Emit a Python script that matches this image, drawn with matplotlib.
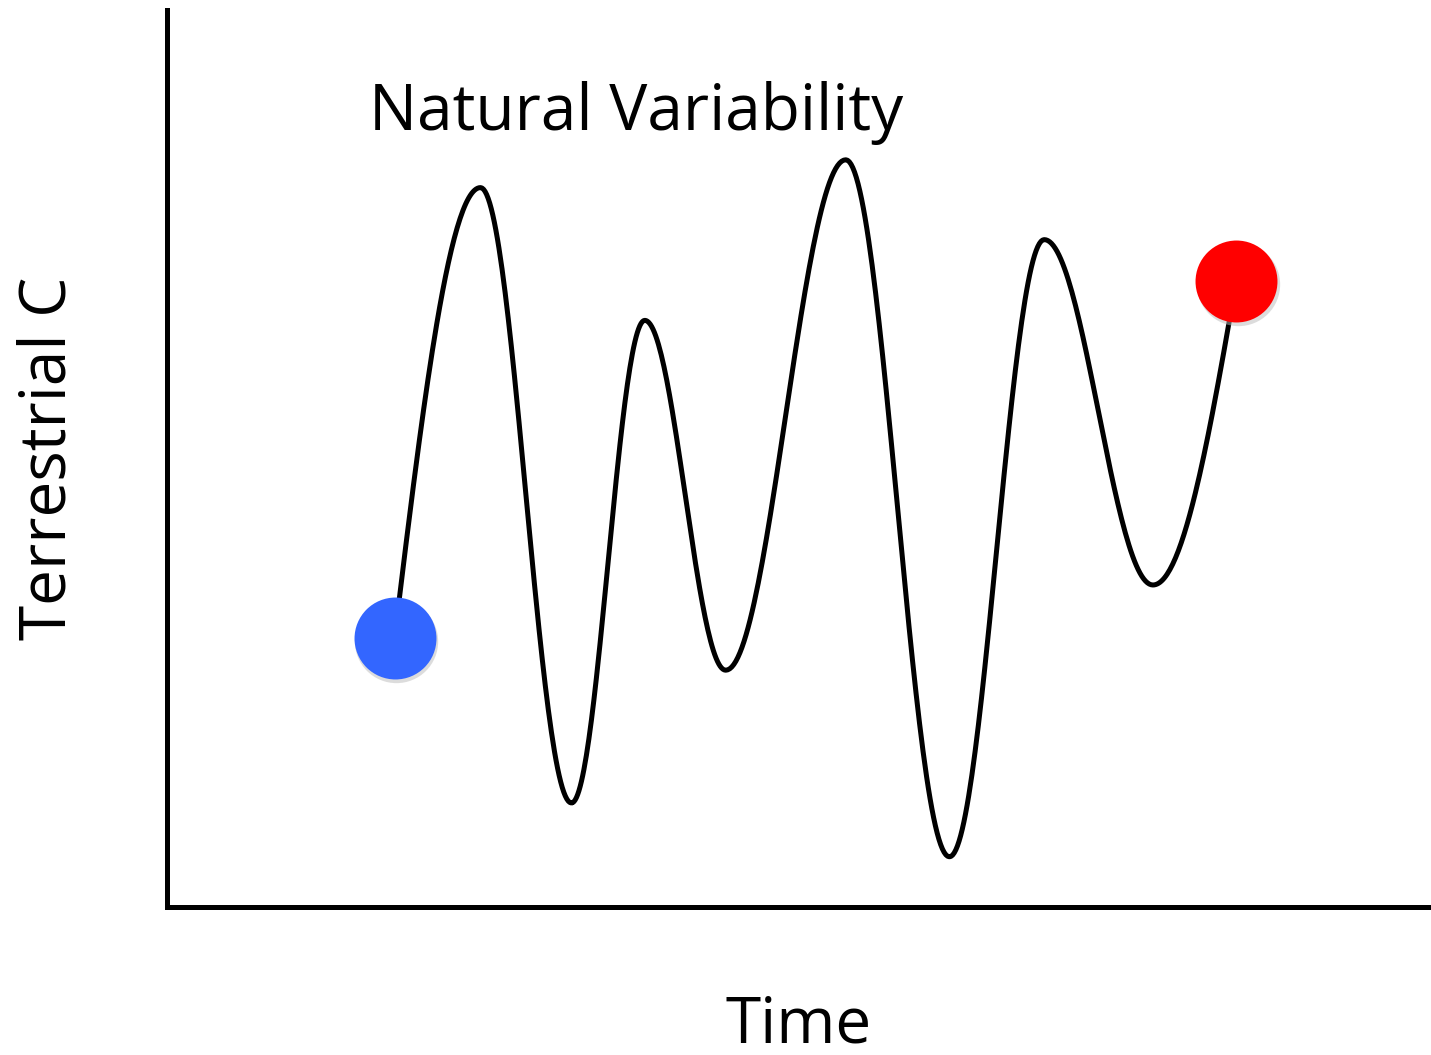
import numpy as np
import matplotlib.pyplot as plt

# turning points of the schematic curve (time, terrestrial C), arbitrary units
time_pts = [18.0, 24.8, 32.0, 37.8, 44.2, 53.7, 61.9, 69.4, 78.0, 84.6]
carbon_pts = [30.0, 80.2, 11.6, 65.4, 26.4, 83.3, 5.6, 74.4, 35.9, 69.8]

title_text = "Natural Variability"
x_label = "Time"
y_label = "Terrestrial C"

# smooth wave through the turning points (flat at every extremum)
xs, ys = [], []
n = len(time_pts)
for i in range(n - 1):
    t = np.linspace(0, 1, 60)
    x0, x1 = time_pts[i], time_pts[i + 1]
    y0, y1 = carbon_pts[i], carbon_pts[i + 1]
    if i == 0:
        ease = np.sin(np.pi / 2 * t)            # starts sloped, ends flat
    elif i == n - 2:
        ease = 1 - np.cos(np.pi / 2 * t)        # starts flat, ends sloped
    else:
        ease = (1 - np.cos(np.pi * t)) / 2
    xs.append(x0 + (x1 - x0) * t)
    ys.append(y0 + (y1 - y0) * ease)
xs = np.concatenate(xs)
ys = np.concatenate(ys)

plt.rcParams['font.family'] = ['Open Sans', 'DejaVu Sans']

fig = plt.figure(figsize=(14.31, 10.55), dpi=100)
ax = fig.add_axes([167 / 1431, 148 / 1055, 1264 / 1431, 897 / 1055])
ax.set_xlim(0, 100)
ax.set_ylim(0, 100)

ax.plot(xs, ys, color='black', lw=3.6, solid_capstyle='round', zorder=2)

# start / end dots with a faint shadow
for xi, yi, c in [(time_pts[0], carbon_pts[0], '#3366ff'),
                  (time_pts[-1], carbon_pts[-1], '#ff0000')]:
    ax.plot(xi + 0.1, yi - 0.35, 'o', ms=60, color='#bbbbbb', alpha=0.5,
            mec='none', zorder=3)
    ax.plot(xi, yi, 'o', ms=59, color=c, mec='none', zorder=4)

ax.text(0.16, 0.885, title_text, transform=ax.transAxes, fontsize=46,
        ha='left', va='center')

for s in ['top', 'right']:
    ax.spines[s].set_visible(False)
for s in ['left', 'bottom']:
    ax.spines[s].set_linewidth(3.6)
ax.set_xticks([])
ax.set_yticks([])

ax.set_xlabel(x_label, fontsize=46, labelpad=62)
ax.set_ylabel(y_label, fontsize=46, labelpad=62)

fig.savefig('out.png', dpi=100)
